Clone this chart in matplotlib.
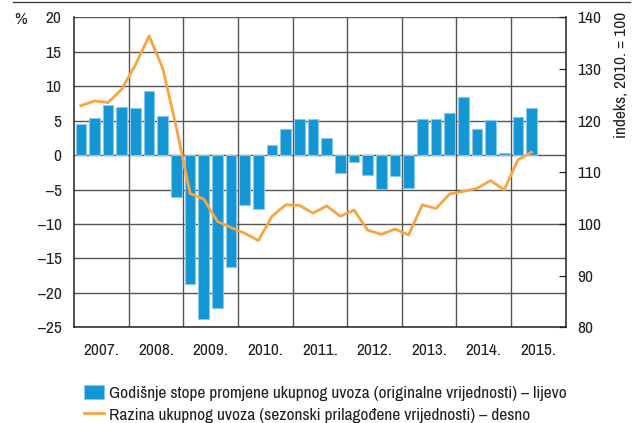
import matplotlib
matplotlib.use("Agg")
import matplotlib.pyplot as plt
from matplotlib import font_manager
import numpy as np
from matplotlib.lines import Line2D
from matplotlib.patches import Patch

# ---- data ----
years = ["2007.", "2008.", "2009.", "2010.", "2011.", "2012.", "2013.", "2014.", "2015."]
growth = [4.45, 5.37, 7.3, 6.92,
          6.87, 9.34, 5.66, -6.05,
          -18.77, -23.85, -22.16, -16.2,
          -7.26, -7.89, 1.5, 3.82,
          5.18, 5.27, 2.42, -2.61,
          -0.97, -2.85, -4.98, -3.1,
          -4.74, 5.27, 5.18, 6.05,
          8.37, 3.73, 5.13, 0.29,
          5.56, 6.82]
level = [122.9, 123.8, 123.5, 126.1,
         130.8, 136.4, 130.1, 118.6,
         105.9, 104.8, 100.5, 99.3,
         98.2, 96.8, 101.5, 103.7,
         103.6, 102.1, 103.5, 101.5,
         102.7, 98.8, 98.0, 99.0,
         97.9, 103.7, 103.0, 105.8,
         106.3, 106.9, 108.4, 106.6,
         112.4, 113.9]
left_ticks = [20, 15, 10, 5, 0, -5, -10, -15, -20, -25]
right_ticks = [140, 130, 120, 110, 100, 90, 80]
legend_labels = ["Godišnje stope promjene ukupnog uvoza (originalne vrijednosti) – lijevo",
                 "Razina ukupnog uvoza (sezonski prilagođene vrijednosti) – desno"]

names = sorted({f.name for f in font_manager.fontManager.ttflist})
narrow = [n for n in names if ('Narrow' in n or 'Condensed' in n)]
if narrow:
    FAMILY = narrow[0]
    FS = 12.5
else:
    FAMILY = 'Liberation Sans'
    FS = 10.5
plt.rcParams['font.family'] = [FAMILY, 'DejaVu Sans']

BAR = "#1496d4"
BAR_EDGE = "#86c9ec"
LINE = "#f8a443"
GRID = "#555555"
SPINE = "#222222"
TEXT = "#231f20"

fig = plt.figure(figsize=(6.35, 4.23), dpi=100)
ax = fig.add_axes([74/635, 1-327.3/423, (565.7-74)/635, (327.3-17.3)/423])

x = np.arange(len(growth)) + 0.5
bars = ax.bar(x, growth, width=0.78, color=BAR, edgecolor=BAR_EDGE, linewidth=0.8, zorder=3)
ax.set_xlim(0, 4*len(years))
ax.set_ylim(-25, 20)
ax.set_yticks(left_ticks)
ax.set_yticklabels([("–" + str(abs(v))) if v < 0 else str(v) for v in left_ticks])
ax.set_xticks(np.arange(len(years))*4 + 2)
ax.set_xticklabels(years)
ax.tick_params(axis='y', length=0, pad=9, labelsize=FS, colors=TEXT)
ax.tick_params(axis='x', length=0, pad=11, labelsize=FS, colors=TEXT)

# grid
for v in left_ticks:
    ax.axhline(v, color=GRID, lw=1.0, zorder=1)
for b in range(1, len(years)):
    ax.axvline(b*4, color=GRID, lw=1.0, zorder=1)

for s in ['left', 'bottom', 'right']:
    ax.spines[s].set_color(SPINE)
    ax.spines[s].set_linewidth(1.1)
ax.spines['top'].set_visible(False)

ax2 = ax.twinx()
ln, = ax2.plot(x, level, color=LINE, lw=2.0, zorder=4)
ax2.set_ylim(80, 140)
ax2.set_yticks(right_ticks)
ax2.tick_params(axis='y', direction='in', length=5, width=0.9, color=SPINE,
                pad=8, labelsize=FS, labelcolor=TEXT)
for s in ['left', 'bottom', 'right', 'top']:
    ax2.spines[s].set_visible(False)

fig.text(622/635, 1-12/423, "indeks, 2010. = 100", fontsize=FS, color=TEXT,
         rotation=90, ha='center', va='top')
fig.text(14/635, 1-19/423, "%", fontsize=FS, color=TEXT, va='center', ha='left')

# top rule
fig.add_artist(Line2D([13/635, 630/635], [1-2/423, 1-2/423], color="#333333", lw=0.9))

handles = [Patch(facecolor=BAR, edgecolor=BAR_EDGE, linewidth=0.5),
           Line2D([], [], color=LINE, lw=2.0)]
fig.legend(handles, legend_labels, loc='upper left', bbox_to_anchor=(84/635, 1-385/423),
           frameon=False, fontsize=FS, handlelength=1.15, handleheight=0.9,
           handletextpad=0.3, labelspacing=0.32, borderpad=0, borderaxespad=0,
           labelcolor=TEXT)

fig.savefig("out.png", dpi=100)
